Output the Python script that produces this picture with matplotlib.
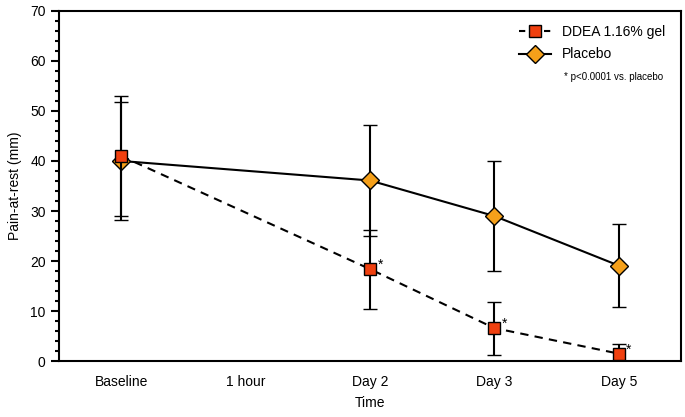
import matplotlib.pyplot as plt
import numpy as np
from matplotlib.ticker import MultipleLocator
from matplotlib.lines import Line2D

timepoints = ["Baseline", "1 hour", "Day 2", "Day 3", "Day 5"]

# index into timepoints for each measured point (no 1 hour data)
ddea_idx = [0, 2, 3, 4]
ddea_mean = [41.0, 18.4, 6.6, 1.5]
ddea_sd = [12.0, 7.9, 5.3, 2.0]

placebo_idx = [0, 2, 3, 4]
placebo_mean = [40.0, 36.1, 29.0, 19.1]
placebo_sd = [11.7, 11.1, 11.0, 8.3]

plt.rcParams['font.family'] = ['Liberation Sans', 'DejaVu Sans']

fig = plt.figure(figsize=(6.85, 4.17), dpi=100)
ax = fig.add_axes([0.086, 0.134, 0.908, 0.84])

sq_style = dict(marker='s', markersize=8.5, markerfacecolor='#F0400F',
                markeredgecolor='black', markeredgewidth=1.0)
dm_style = dict(marker='D', markersize=9, markerfacecolor='#F5A01A',
                markeredgecolor='black', markeredgewidth=1.0)

ax.errorbar(placebo_idx, placebo_mean, yerr=placebo_sd, fmt='-', color='black',
            lw=1.5, capsize=5, capthick=1.5, elinewidth=1.5,
            zorder=3, **dm_style)
ax.errorbar(ddea_idx, ddea_mean, yerr=ddea_sd, fmt='--', color='black',
            lw=1.5, capsize=5, capthick=1.5, elinewidth=1.5,
            zorder=4, dashes=(4, 3), **sq_style)

# significance stars
for i, m in zip(ddea_idx[1:], ddea_mean[1:]):
    ax.text(i + 0.06, m + 0.8, "*", fontsize=10, ha='left', va='center')

ax.set_xlim(-0.5, 4.5)
ax.set_ylim(0, 70)
ax.set_xticks(range(len(timepoints)))
ax.set_xticklabels(timepoints, fontsize=10)
ax.tick_params(axis='x', length=0, pad=10)
ax.yaxis.set_major_locator(MultipleLocator(10))
ax.yaxis.set_minor_locator(MultipleLocator(2))
ax.tick_params(axis='y', which='major', length=6, width=1.5, labelsize=10)
ax.tick_params(axis='y', which='minor', length=3, width=1.5)
for s in ax.spines.values():
    s.set_linewidth(1.5)

ax.set_xlabel("Time", fontsize=10, labelpad=5)
ax.set_ylabel("Pain-at-rest (mm)", fontsize=10, labelpad=6)

handles = [
    Line2D([], [], color='black', lw=1.5, linestyle='--', dashes=(3, 3), **sq_style),
    Line2D([], [], color='black', lw=1.5, linestyle='-', **dm_style),
]
ax.legend(handles, ["DDEA 1.16% gel", "Placebo"], loc='upper left',
          bbox_to_anchor=(0.72, 0.995), frameon=False, fontsize=10,
          handlelength=2.3, handletextpad=0.8, labelspacing=0.6)
ax.text(0.812, 0.81, "* p<0.0001 vs. placebo", transform=ax.transAxes,
        fontsize=7, ha='left', va='center')

plt.savefig('out.png', dpi=100)
